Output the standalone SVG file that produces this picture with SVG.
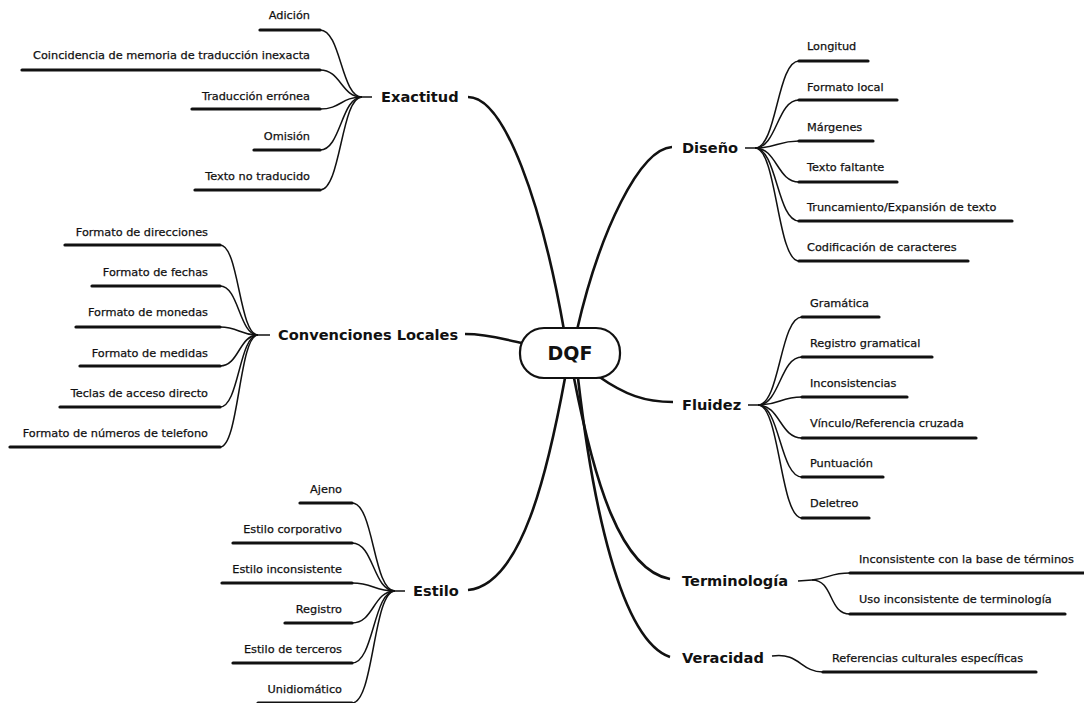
<svg xmlns="http://www.w3.org/2000/svg" width="1084" height="703" viewBox="0 0 1084 703">
<style>
.bg{fill:#ffffff}
.main{font-family:"DejaVu Sans","Liberation Sans",sans-serif;font-weight:bold;font-size:14.6px;fill:#111}
.leaf{font-family:"DejaVu Sans","Liberation Sans",sans-serif;font-size:11.3px;fill:#111;stroke:#111;stroke-width:0.25}
.end{text-anchor:end}
.ul{stroke:#111;stroke-width:3.2;fill:none;stroke-linecap:round}
.br{stroke:#111;stroke-width:1.5;fill:none}
.trunk{stroke:#111;stroke-width:2.6;fill:none}
.core{fill:#fff;stroke:#111;stroke-width:2.2}
.coretxt{font-family:"DejaVu Sans","Liberation Sans",sans-serif;font-weight:bold;font-size:19px;fill:#111;text-anchor:middle}
</style>
<rect class="bg" x="0" y="0" width="1084" height="703"/>

<g id="connectors">
  <path class="trunk" d="M468,97 C505,97 542,205 564,330"/>
  <path class="trunk" d="M672,147 C640,149 600,230 577,330"/>
  <path class="trunk" d="M465,334 C490,334 505,340 522,343"/>
  <path class="trunk" d="M598,376 C625,395 645,402 673,402"/>
  <path class="trunk" d="M468,590 C522,585 548,470 565,378"/>
  <path class="trunk" d="M670,579 C620,570 594,480 574,378"/>
  <path class="trunk" d="M670,657 C620,640 592,500 578,378"/>

  <path class="br" d="M372,97 L362,97"/>
  <path class="br" d="M362,97 C341,97 341,30 320,30"/>
  <path class="br" d="M362,97 C341,97 341,70 320,70"/>
  <path class="br" d="M362,97 C341,97 341,109 320,109"/>
  <path class="br" d="M362,97 C341,97 341,150 320,150"/>
  <path class="br" d="M362,97 C341,97 341,190 320,190"/>

  <path class="br" d="M270,335 L258,335"/>
  <path class="br" d="M258,335 C239,335 239,245 220,245"/>
  <path class="br" d="M258,335 C239,335 239,286 220,286"/>
  <path class="br" d="M258,335 C239,335 239,327 220,327"/>
  <path class="br" d="M258,335 C239,335 239,366 220,366"/>
  <path class="br" d="M258,335 C239,335 239,407 220,407"/>
  <path class="br" d="M258,335 C239,335 239,447 220,447"/>

  <path class="br" d="M405,591 L395,591"/>
  <path class="br" d="M395,591 C373,591 374,503 352,503"/>
  <path class="br" d="M395,591 C373,591 374,543 352,543"/>
  <path class="br" d="M395,591 C373,591 374,583 352,583"/>
  <path class="br" d="M395,591 C373,591 374,623 352,623"/>
  <path class="br" d="M395,591 C373,591 374,663 352,663"/>
  <path class="br" d="M395,591 C373,591 374,703 352,703"/>

  <path class="br" d="M745,148 L755,148"/>
  <path class="br" d="M755,148 C777,148 777,61 799,61"/>
  <path class="br" d="M755,148 C777,148 777,100 799,100"/>
  <path class="br" d="M755,148 C777,148 777,141 799,141"/>
  <path class="br" d="M755,148 C777,148 777,182 799,182"/>
  <path class="br" d="M755,148 C777,148 777,221 799,221"/>
  <path class="br" d="M755,148 C777,148 777,261 799,261"/>

  <path class="br" d="M748,405 L758,405"/>
  <path class="br" d="M758,405 C780,405 780,317 802,317"/>
  <path class="br" d="M758,405 C780,405 780,357 802,357"/>
  <path class="br" d="M758,405 C780,405 780,397 802,397"/>
  <path class="br" d="M758,405 C780,405 780,438 802,438"/>
  <path class="br" d="M758,405 C780,405 780,477 802,477"/>
  <path class="br" d="M758,405 C780,405 780,518 802,518"/>

  <path class="br" d="M798,581 L812,580"/>
  <path class="br" d="M812,580 C830,578 830,573 850,573"/>
  <path class="br" d="M812,580 C834,580 828,614 850,614"/>

  <path class="br" d="M772,656 C800,652 800,672 823,672"/>
</g>

<g id="dqf">
  <rect class="core" x="520" y="328" width="100" height="50" rx="24" ry="24"/>
  <text class="coretxt" x="570" y="360">DQF</text>
</g>

<g id="exactitud">
  <text class="main" x="381" y="102">Exactitud</text>
  <line class="ul" x1="260" y1="30" x2="320" y2="30"/>
  <text class="leaf end" x="310" y="19">Adición</text>
  <line class="ul" x1="22" y1="70" x2="320" y2="70"/>
  <text class="leaf end" x="310" y="59">Coincidencia de memoria de traducción inexacta</text>
  <line class="ul" x1="192" y1="109" x2="320" y2="109"/>
  <text class="leaf end" x="310" y="100">Traducción errónea</text>
  <line class="ul" x1="254" y1="150" x2="320" y2="150"/>
  <text class="leaf end" x="310" y="140">Omisión</text>
  <line class="ul" x1="195" y1="190" x2="320" y2="190"/>
  <text class="leaf end" x="310" y="180">Texto no traducido</text>
</g>

<g id="convenciones">
  <text class="main" x="278" y="340">Convenciones Locales</text>
  <line class="ul" x1="65" y1="245" x2="220" y2="245"/>
  <text class="leaf end" x="208" y="236">Formato de direcciones</text>
  <line class="ul" x1="92" y1="286" x2="220" y2="286"/>
  <text class="leaf end" x="208" y="276">Formato de fechas</text>
  <line class="ul" x1="76" y1="327" x2="220" y2="327"/>
  <text class="leaf end" x="208" y="316">Formato de monedas</text>
  <line class="ul" x1="80" y1="366" x2="220" y2="366"/>
  <text class="leaf end" x="208" y="357">Formato de medidas</text>
  <line class="ul" x1="60" y1="407" x2="220" y2="407"/>
  <text class="leaf end" x="208" y="397">Teclas de acceso directo</text>
  <line class="ul" x1="10" y1="447" x2="220" y2="447"/>
  <text class="leaf end" x="208" y="437">Formato de números de telefono</text>
</g>

<g id="estilo">
  <text class="main" x="413" y="596">Estilo</text>
  <line class="ul" x1="300" y1="503" x2="352" y2="503"/>
  <text class="leaf end" x="342" y="493">Ajeno</text>
  <line class="ul" x1="233" y1="543" x2="352" y2="543"/>
  <text class="leaf end" x="342" y="533">Estilo corporativo</text>
  <line class="ul" x1="222" y1="583" x2="352" y2="583"/>
  <text class="leaf end" x="342" y="573">Estilo inconsistente</text>
  <line class="ul" x1="285" y1="623" x2="352" y2="623"/>
  <text class="leaf end" x="342" y="613">Registro</text>
  <line class="ul" x1="233" y1="663" x2="352" y2="663"/>
  <text class="leaf end" x="342" y="653">Estilo de terceros</text>
  <line class="ul" x1="258" y1="703" x2="352" y2="703"/>
  <text class="leaf end" x="342" y="693">Unidiomático</text>
</g>

<g id="diseno">
  <text class="main" x="682" y="153">Diseño</text>
  <line class="ul" x1="799" y1="61" x2="868" y2="61"/>
  <text class="leaf" x="807" y="50">Longitud</text>
  <line class="ul" x1="799" y1="100" x2="897" y2="100"/>
  <text class="leaf" x="807" y="91">Formato local</text>
  <line class="ul" x1="799" y1="141" x2="873" y2="141"/>
  <text class="leaf" x="807" y="131">Márgenes</text>
  <line class="ul" x1="799" y1="182" x2="897" y2="182"/>
  <text class="leaf" x="807" y="171">Texto faltante</text>
  <line class="ul" x1="799" y1="221" x2="1012" y2="221"/>
  <text class="leaf" x="807" y="211">Truncamiento/Expansión de texto</text>
  <line class="ul" x1="799" y1="261" x2="968" y2="261"/>
  <text class="leaf" x="807" y="251">Codificación de caracteres</text>
</g>

<g id="fluidez">
  <text class="main" x="682" y="410">Fluidez</text>
  <line class="ul" x1="802" y1="317" x2="879" y2="317"/>
  <text class="leaf" x="810" y="307">Gramática</text>
  <line class="ul" x1="802" y1="357" x2="932" y2="357"/>
  <text class="leaf" x="810" y="347">Registro gramatical</text>
  <line class="ul" x1="802" y1="397" x2="907" y2="397"/>
  <text class="leaf" x="810" y="387">Inconsistencias</text>
  <line class="ul" x1="802" y1="438" x2="976" y2="438"/>
  <text class="leaf" x="810" y="427">Vínculo/Referencia cruzada</text>
  <line class="ul" x1="802" y1="477" x2="883" y2="477"/>
  <text class="leaf" x="810" y="467">Puntuación</text>
  <line class="ul" x1="802" y1="518" x2="869" y2="518"/>
  <text class="leaf" x="810" y="507">Deletreo</text>
</g>

<g id="terminologia">
  <text class="main" x="682" y="586">Terminología</text>
  <line class="ul" x1="850" y1="573" x2="1084" y2="573"/>
  <text class="leaf" x="859" y="563">Inconsistente con la base de términos</text>
  <line class="ul" x1="850" y1="614" x2="1065" y2="614"/>
  <text class="leaf" x="859" y="603">Uso inconsistente de terminología</text>
</g>

<g id="veracidad">
  <text class="main" x="682" y="663">Veracidad</text>
  <line class="ul" x1="823" y1="672" x2="1036" y2="672"/>
  <text class="leaf" x="832" y="662">Referencias culturales específicas</text>
</g>
</svg>
